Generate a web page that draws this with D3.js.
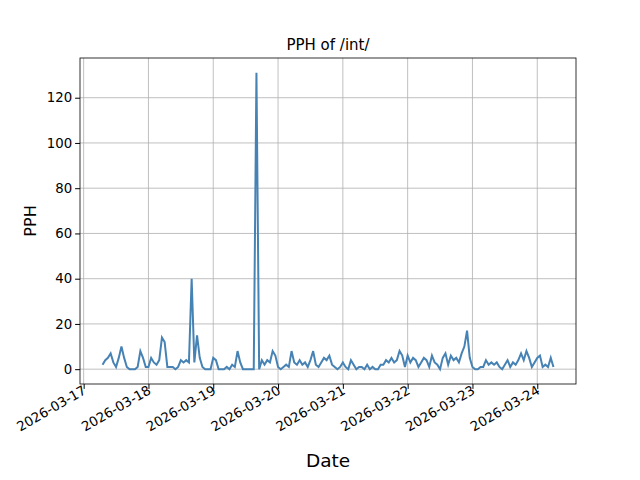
<!DOCTYPE html>
<html><head><meta charset="utf-8">
<script src="https://cdn.jsdelivr.net/npm/d3@7"></script>
<style>body{margin:0;background:#fff}text{font-family:"DejaVu Sans",sans-serif}</style>
</head><body><svg id="chart" width="640" height="480"></svg>
<script>
// hourly posts per hour, starting 2026-03-17 07:00
const startTime = "2026-03-17T07:00:00";
const pph = [
  2,4,5,7,3,1,5,10,5,1,0,0,0,1,8,5,1,
  1,5,3,2,4,14,12,1,1,1,0,1,4,3,4,3,40,3,15,5,1,0,0,0,
  5,4,0,0,0,1,0,2,1,8,3,0,0,0,0,0,131,0,4,2,4,3,8,6,
  1,0,1,2,1,8,3,2,4,2,3,1,4,8,2,1,3,5,4,6,2,1,0,1,
  3,1,0,4,2,0,1,1,0,2,0,1,0,0,2,2,4,3,5,3,4,8,6,1,
  6,3,5,4,1,3,5,4,1,6,3,2,0,5,7,2,6,4,5,3,7,10,17,5,
  1,0,0,1,1,4,2,3,2,3,1,0,2,4,1,3,2,4,7,4,8,5,1,3,
  5,6,1,2,1,5,1
];
const yTicks = [0,20,40,60,80,100,120];

const width = 640, height = 480;
const margin = {left:80, right:64, top:58, bottom:96};
const svg = d3.select("#chart");
const t0 = new Date(startTime);
const data = pph.map((v,i) => ({t:new Date(t0.getTime()+i*3600e3), v}));

const ext = d3.extent(data, d=>d.t);
const pad = (ext[1]-ext[0])*0.05;
const x = d3.scaleTime().domain([new Date(+ext[0]-pad), new Date(+ext[1]+pad)])
  .range([margin.left, width-margin.right]);
const yMax = d3.max(pph), yPad = yMax*0.05;
const y = d3.scaleLinear().domain([-yPad, yMax+yPad]).range([height-margin.bottom, margin.top]);

const days = d3.timeDay.range(d3.timeDay.ceil(x.domain()[0]), x.domain()[1]);

// grid
svg.append("g").selectAll("line").data(days).join("line")
  .attr("x1",d=>x(d)).attr("x2",d=>x(d)).attr("y1",margin.top).attr("y2",height-margin.bottom)
  .attr("stroke","#b0b0b0").attr("stroke-width",0.8);
svg.append("g").selectAll("line").data(yTicks).join("line")
  .attr("y1",d=>y(d)).attr("y2",d=>y(d)).attr("x1",margin.left).attr("x2",width-margin.right)
  .attr("stroke","#b0b0b0").attr("stroke-width",0.8);

svg.append("path").datum(data)
  .attr("d", d3.line().x(d=>x(d.t)).y(d=>y(d.v)))
  .attr("fill","none").attr("stroke","#4682b4").attr("stroke-width",2);

const fmt = d3.timeFormat("%Y-%m-%d");
const xa = svg.append("g").attr("transform",`translate(0,${height-margin.bottom})`)
  .call(d3.axisBottom(x).tickValues(days).tickFormat(fmt).tickSizeOuter(0).tickSize(4.9));
xa.select(".domain").remove();
xa.selectAll("text").attr("font-size",13.3).attr("fill","#000")
  .attr("text-anchor","end").attr("dy",null).attr("y",0)
  .attr("transform","translate(3,9) rotate(-30)");
const ya = svg.append("g").attr("transform",`translate(${margin.left},0)`)
  .call(d3.axisLeft(y).tickValues(yTicks).tickSizeOuter(0).tickSize(4.9));
ya.select(".domain").remove();
ya.selectAll("text").attr("font-size",13.3).attr("fill","#000");

svg.append("rect").attr("x",margin.left).attr("y",margin.top)
  .attr("width",width-margin.left-margin.right).attr("height",height-margin.top-margin.bottom)
  .attr("fill","none").attr("stroke","#000").attr("stroke-width",0.8);

svg.append("text").attr("x",(margin.left+width-margin.right)/2).attr("y",margin.top-8)
  .attr("text-anchor","middle").attr("font-size",15).text("PPH of /int/");
svg.append("text").attr("x",(margin.left+width-margin.right)/2).attr("y",467)
  .attr("text-anchor","middle").attr("font-size",18.5).text("Date");
svg.append("text").attr("transform",`translate(36,${(margin.top+height-margin.bottom)/2}) rotate(-90)`)
  .attr("text-anchor","middle").attr("font-size",16).text("PPH");
</script></body></html>
